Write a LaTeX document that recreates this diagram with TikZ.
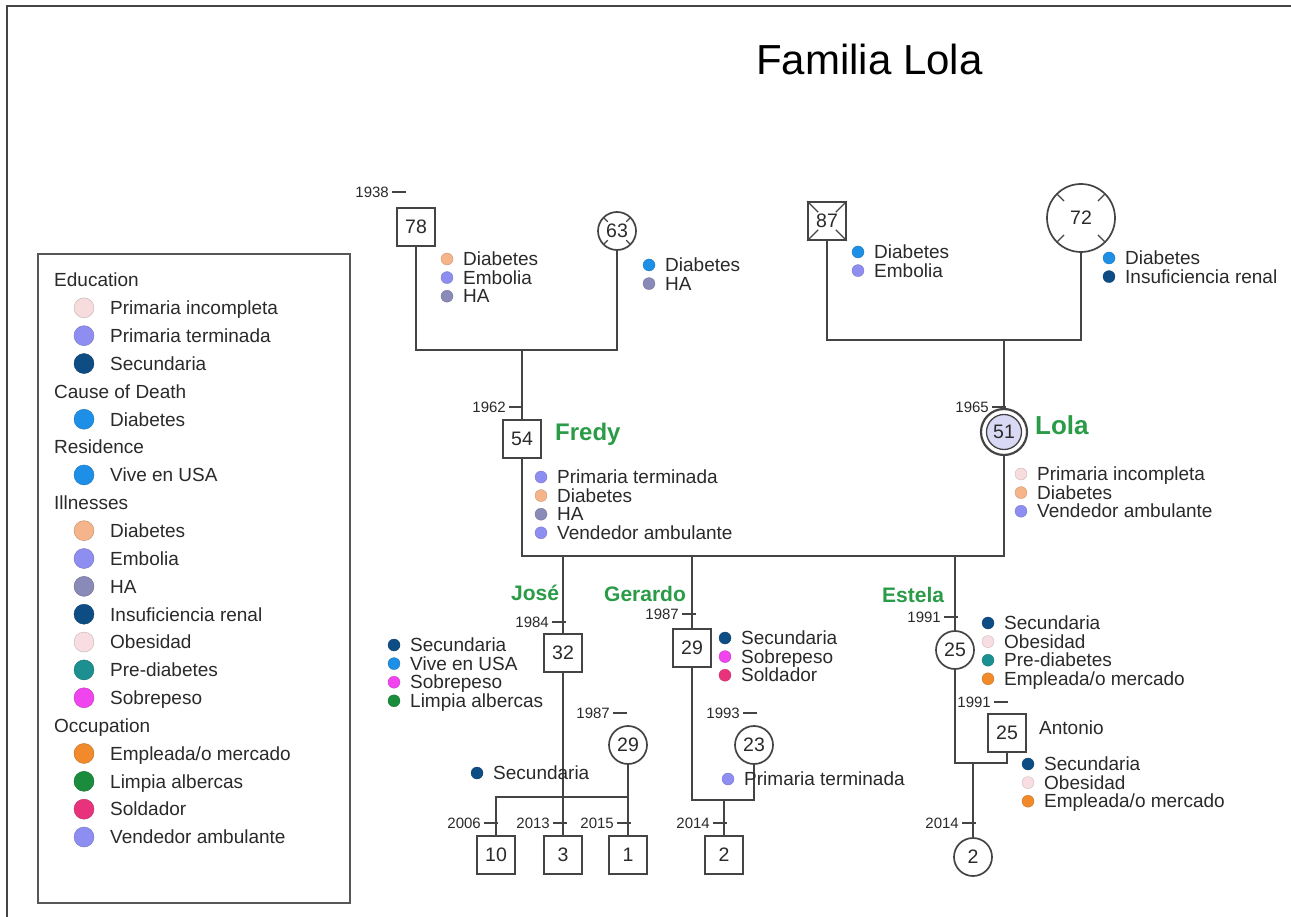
\documentclass[tikz,border=0pt]{standalone}
\usepackage{fontspec}
\setmainfont{Liberation Sans}
\definecolor{edline}{HTML}{444444}
\definecolor{txt}{HTML}{2A2A2A}
\definecolor{nameg}{HTML}{2A9B47}
\definecolor{lolafill}{HTML}{D9D9F6}
\definecolor{cPrimInc}{HTML}{F7DCDD}
\definecolor{cPrimTerm}{HTML}{8E8EF2}
\definecolor{cSec}{HTML}{0E4C84}
\definecolor{cDeath}{HTML}{1E8FE6}
\definecolor{cUSA}{HTML}{1E8FE6}
\definecolor{cDiab}{HTML}{F5B48A}
\definecolor{cEmb}{HTML}{8E8EF0}
\definecolor{cHA}{HTML}{8A8AB8}
\definecolor{cIns}{HTML}{0E4C84}
\definecolor{cObe}{HTML}{F8DDE2}
\definecolor{cPre}{HTML}{1C9090}
\definecolor{cSob}{HTML}{F044EE}
\definecolor{cEmp}{HTML}{F08A2A}
\definecolor{cLim}{HTML}{1A8C3C}
\definecolor{cSol}{HTML}{E8327C}
\definecolor{cVen}{HTML}{8E8EF2}
\newcommand\annlist[4]{%
  \foreach \col/\lab [count=\i from 0] in {#4}{%
    \fill[\col, draw=\col!80!black, line width=0.3pt] (#2,#3+18.6*\i) circle[radius=6pt];
    \node[ann] (#1-\i) at (#2+16,#3+18.6*\i+6.5) {\lab};
  }}
\newcommand\yearmark[4]{%
  \draw[yrtick] (#2-14,#3) -- (#2,#3);
  \node[yr] (#1) at (#2-17,#3+5.3) {#4};}
\begin{document}
\begin{tikzpicture}[x=1pt,y=-1pt,
  person/.style={draw=edline, line width=1.7pt, inner sep=0pt, text=txt, font=\fontsize{19.5}{19.5}\selectfont},
  male/.style={person, rectangle, minimum size=38pt},
  female/.style={person, circle, minimum size=38pt},
  conn/.style={draw=edline, line width=1.6pt},
  yrtick/.style={draw=edline, line width=1.3pt},
  symmark/.style={draw=edline, line width=1.2pt},
  ann/.style={anchor=base west, inner sep=0pt, text=txt, font=\fontsize{19}{19}\selectfont},
  yr/.style={anchor=base east, inner sep=0pt, text=txt, font=\fontsize{15}{15}\selectfont},
  pname/.style={anchor=base west, inner sep=0pt, text=nameg},
  leghead/.style={anchor=base west, inner sep=0pt, text=txt, font=\fontsize{19}{19}\selectfont},
  legtext/.style={anchor=base west, inner sep=0pt, text=txt, font=\fontsize{19}{19}\selectfont}]
\useasboundingbox (0,0) rectangle (1291,917);
\fill[white] (0,0) rectangle (1291,917);
% frame
\draw[line width=1.6pt, draw=edline] (7,917) -- (7,6) -- (1291,6);
% title
\node[anchor=base west, inner sep=0pt, text=black, font=\fontsize{42}{42}\selectfont] (title) at (756,75) {Familia Lola};
% legend
\draw[line width=1.5pt, draw=edline!90] (38,254) rectangle (350,903);
\foreach \i/\lab in {0/Education, 4/{Cause of Death}, 6/Residence, 8/Illnesses, 16/Occupation}
  \node[leghead] (lh\i) at (54,280+27.85*\i+6.8) {\lab};
\foreach \i/\col/\lab in {1/cPrimInc/{Primaria incompleta}, 2/cPrimTerm/{Primaria terminada}, 3/cSec/Secundaria,
  5/cDeath/Diabetes, 7/cUSA/{Vive en USA}, 9/cDiab/Diabetes, 10/cEmb/Embolia, 11/cHA/HA,
  12/cIns/{Insuficiencia renal}, 13/cObe/Obesidad, 14/cPre/Pre-diabetes, 15/cSob/Sobrepeso,
  17/cEmp/{Empleada/o mercado}, 18/cLim/{Limpia albercas}, 19/cSol/Soldador, 20/cVen/{Vendedor ambulante}}{
  \fill[\col, draw=\col!80!black, line width=0.4pt] (84,280+27.85*\i) circle[radius=10pt];
  \node[legtext] (li\i) at (110,280+27.85*\i+6.8) {\lab};
}
% people
\node[male] (g78) at (416,227) {78};
\node[female] (g63) at (617,231) {63};
\node[male] (g87) at (827,221) {87};
\node[female, minimum size=68pt] (g72) at (1081,218) {72};
\node[male] (fredy) at (522,439) {54};
\fill[lolafill, draw=edline, line width=1.3pt] (1004,432) circle[radius=17.5pt];
\node[person, circle, minimum size=46pt, line width=2.2pt] (lola) at (1004,432) {51};
\node[male] (jose) at (563,653) {32};
\node[male] (gerardo) at (692,648) {29};
\node[female] (estela) at (955,650) {25};
\node[male] (antonio) at (1007,733) {25};
\node[female] (wjose) at (628,745) {29};
\node[female] (wger) at (754,745) {23};
\node[male] (c10) at (496,855) {10};
\node[male] (c3) at (563,855) {3};
\node[male] (c1) at (628,855) {1};
\node[male] (c2g) at (724,855) {2};
\node[female] (c2e) at (973,857) {2};
% markers
\foreach \a in {45,135,225,315}{
  \draw[symmark] ([shift={(\a:13pt)}]g63.center) -- ([shift={(\a:18.5pt)}]g63.center);
  \draw[symmark] ([shift={(\a:24pt)}]g72.center) -- ([shift={(\a:33.5pt)}]g72.center);
}
\draw[symmark] (g87.north west) -- ++(11,11);
\draw[symmark] (g87.north east) -- ++(-11,11);
\draw[symmark] (g87.south west) -- ++(11,-11);
\draw[symmark] (g87.south east) -- ++(-11,-11);
% connectors
\coordinate (m1) at (522,350);
\coordinate (m2) at (1004,340);
\coordinate (sib) at (760,556);
\coordinate (mj) at (563,797);
\coordinate (mg) at (724,800);
\coordinate (me) at (973,763);
\draw[conn] (g78.south) |- (m1) -| (g63.south);
\draw[conn] (m1) -- (fredy.north);
\draw[conn] (g87.south) |- (m2) -| (g72.south);
\draw[conn] (m2) -- (lola.north);
\draw[conn] (fredy.south) |- (sib) -| (lola.south);
\draw[conn] (jose.north) -- (jose.north |- sib);
\draw[conn] (gerardo.north) -- (gerardo.north |- sib);
\draw[conn] (estela.north) -- (estela.north |- sib);
\draw[conn] (jose.south) -- (c3.north);
\draw[conn] (c10.north) |- (mj) -| (c1.north);
\draw[conn] (wjose.south) -- (wjose.south |- mj);
\draw[conn] (gerardo.south) |- (mg) -| (wger.south);
\draw[conn] (mg) -- (c2g.north);
\draw[conn] (estela.south) |- (me) -| (antonio.south);
\draw[conn] (me) -- (c2e.north);
% year marks
\yearmark{y78}{406}{192}{1938}
\yearmark{yfr}{523}{407}{1962}
\yearmark{ylo}{1006}{407}{1965}
\yearmark{yjo}{566}{622}{1984}
\yearmark{yge}{696}{614}{1987}
\yearmark{yes}{958}{617}{1991}
\yearmark{ywj}{627}{713}{1987}
\yearmark{ywg}{757}{713}{1993}
\yearmark{yan}{1008}{702}{1991}
\yearmark{yc10}{498}{823}{2006}
\yearmark{yc3}{567}{823}{2013}
\yearmark{yc1}{631}{823}{2015}
\yearmark{yc2g}{727}{823}{2014}
\yearmark{yc2e}{976}{823}{2014}
% names
\node[pname, font=\bfseries\fontsize{24}{24}\selectfont] (nfredy) at (555,440) {Fredy};
\node[pname, font=\bfseries\fontsize{26}{26}\selectfont] (nlola) at (1035,434) {Lola};
\node[pname, font=\bfseries\fontsize{21}{21}\selectfont] (njose) at (511,600) {José};
\node[pname, font=\bfseries\fontsize{21}{21}\selectfont] (nger) at (604,601) {Gerardo};
\node[pname, font=\bfseries\fontsize{21}{21}\selectfont] (nest) at (882,602) {Estela};
\node[ann] (nant) at (1039,734) {Antonio};
% annotations
\annlist{a78}{447}{259}{cDiab/Diabetes, cEmb/Embolia, cHA/HA}
\annlist{a63}{649}{265}{cDeath/Diabetes, cHA/HA}
\annlist{a87}{858}{252}{cDeath/Diabetes, cEmb/Embolia}
\annlist{a72}{1109}{258}{cDeath/Diabetes, cIns/{Insuficiencia renal}}
\annlist{afr}{541}{477}{cPrimTerm/{Primaria terminada}, cDiab/Diabetes, cHA/HA, cVen/{Vendedor ambulante}}
\annlist{alo}{1021}{474}{cPrimInc/{Primaria incompleta}, cDiab/Diabetes, cVen/{Vendedor ambulante}}
\annlist{ajo}{394}{645}{cSec/Secundaria, cUSA/{Vive en USA}, cSob/Sobrepeso, cLim/{Limpia albercas}}
\annlist{age}{725}{638}{cSec/Secundaria, cSob/Sobrepeso, cSol/Soldador}
\annlist{aes}{988}{623}{cSec/Secundaria, cObe/Obesidad, cPre/Pre-diabetes, cEmp/{Empleada/o mercado}}
\annlist{aan}{1028}{764}{cSec/Secundaria, cObe/Obesidad, cEmp/{Empleada/o mercado}}
\annlist{awj}{477}{773}{cSec/Secundaria}
\annlist{awg}{728}{779}{cPrimTerm/{Primaria terminada}}
\end{tikzpicture}
\end{document}
